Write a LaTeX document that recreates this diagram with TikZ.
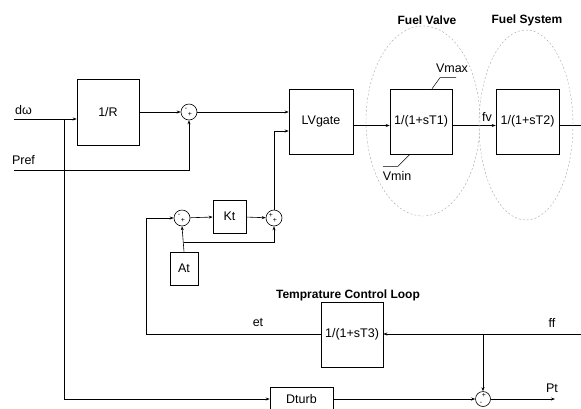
\documentclass[tikz,border=0pt]{standalone}
\usepackage{fontspec}
\setmainfont{Liberation Sans}
\usetikzlibrary{arrows.meta,positioning,calc}

\begin{document}
\begin{tikzpicture}[x=1pt,y=-1pt,
  font=\fontsize{12.5}{14}\selectfont,
  line width=0.6pt,
  blk/.style={draw,inner sep=0pt,minimum width=62pt,minimum height=65pt},
  sblk/.style={draw,inner sep=0pt,minimum width=33pt,minimum height=33pt},
  sum/.style={draw,circle,inner sep=0pt,minimum size=16pt},
  sgn/.style={font=\fontsize{7}{7}\selectfont,inner sep=0pt},
  ttl/.style={font=\fontsize{12}{14}\selectfont\bfseries},
  sig/.style={-{Stealth[length=4pt,width=3pt]}},
  zone/.style={draw=gray!70,dash pattern=on 2pt off 2pt,line width=0.4pt}]
 \useasboundingbox (0,0) rectangle (581,408);
 % turbine blocks
 \node[blk,minimum height=66pt] (rinv) at (108,112) {1/R};
 \node[sum] (s1) at (189,112) {};
 \node[blk,minimum width=64pt] (lvg) at (321,121.5) {LVgate};
 \node[blk] (fv1) at (421,121.5) {1/(1+sT1)};
 \node[blk,minimum width=63pt] (fs2) at (527.5,121.5) {1/(1+sT2)};
 \node[sum] (s2) at (182,218) {};
 \node[sblk] (kt) at (229.5,216.5) {Kt};
 \node[sum] (s3) at (274,218) {};
 \node[sblk,minimum width=28pt] (at) at (184,268.5) {At};
 \node[blk] (t3) at (352,334.5) {1/(1+sT3)};
 \node[sum,minimum size=15pt] (s4) at (483,399) {};
 \node[draw,inner sep=0pt,minimum width=63pt,minimum height=24pt] (dt) at (301.5,399) {Dturb};
 % signs
 \node[sgn] (s1m) at (186,109) {-};
 \node[sgn] (s1p) at (190,114.5) {+};
 \node[sgn] (s2m) at (179,215) {-};
 \node[sgn] (s2p) at (183,220.5) {+};
 \node[sgn] (s3a) at (271,215) {+};
 \node[sgn] (s3b) at (275,220.5) {+};
 \node[sgn] (s4p) at (484,395) {+};
 \node[sgn] (s4m) at (481,403) {-};
 % free ends and corners
 \coordinate (din) at (14,119);
 \coordinate (pin) at (14,170);
 \coordinate (j1) at (64,119);
 \coordinate (j2) at (483,334);
 \coordinate (j3) at (184,242);
 \coordinate (etc) at (146,218);
 \coordinate (fout) at (581,125.5);
 \coordinate (ffin) at (581,334);
 \coordinate (ptout) at (555,399);
 % signals
 \draw[sig] (din) -- (rinv.west |- din);
 \draw[sig] (j1) |- (dt.west);
 \draw[sig] (rinv.east) -- (s1.west);
 \draw[sig] (pin) -| (s1.south);
 \draw[sig] (s1.east) -- (s1.east -| lvg.west);
 \draw[sig] (s3.north) |- ([yshift=-9.5pt]lvg.west);
 \draw[sig] ([yshift=-4pt]lvg.east) -- ([yshift=-4pt]fv1.west);
 \draw[sig] ([yshift=-4pt]fv1.east) -- ([yshift=-4pt]fs2.west);
 \draw ([yshift=-4pt]fs2.east) -- (fout);
 \draw[sig] (ffin) -- (ffin -| t3.east);
 \draw[sig] (j2) -- (s4.north);
 \draw[sig] (t3.west |- ffin) -| (etc) -- (s2.west);
 \draw[sig] (s2) -- (kt);
 \draw[sig] (kt) -- (s3);
 \draw[sig] (at.north) -- (s2.south);
 \draw[sig] (j3) -| (s3.south);
 \draw[sig] (dt) -- (s4);
 \draw[sig] (s4) -- (ptout);
 % limits
 \draw[line width=0.5pt] ([xshift=11pt]fv1.north) -- ++(8,-11) -- ++(16,0);
 \draw[line width=0.5pt] ([xshift=-11pt]fv1.south) -- ++(-12,12) -- ++(-15,0);
 % labels
 \node (ldw) at (23.5,110) {dω};
 \node (lpref) at (23.5,160) {Pref};
 \node (lfv) at (487,117) {fv};
 \node (lvmax) at (452,68) {Vmax};
 \node (lvmin) at (397,176) {Vmin};
 \node (let) at (258,323) {et};
 \node (lff) at (552,323) {ff};
 \node (lpt) at (552,388) {Pt};
 \node[ttl] (tfv) at (427,20) {Fuel Valve};
 \node[ttl] (tfs) at (527,20) {Fuel System};
 \node[ttl] (ttc) at (348,295) {Temprature Control Loop};
 % groups
 \draw[zone] (423,121) ellipse [x radius=57,y radius=95];
 \draw[zone] (526,125) ellipse [x radius=47,y radius=95];
\end{tikzpicture}
\end{document}
